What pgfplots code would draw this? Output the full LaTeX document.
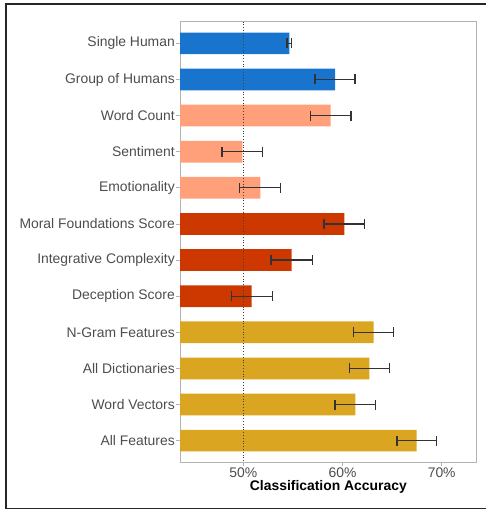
\documentclass[border=0pt]{standalone}
\usepackage{fontspec}
\setmainfont{Liberation Sans}
\usepackage{pgfplots}
\pgfplotsset{compat=1.18}
\usepackage{pgfplotstable}

\definecolor{humanblue}{HTML}{1874CD}
\definecolor{dictsalmon}{HTML}{FFA07A}
\definecolor{dictred}{HTML}{CD3700}
\definecolor{mlgold}{HTML}{DAA520}
\definecolor{labelgray}{HTML}{4D4D4D}
\definecolor{panelgray}{HTML}{B3B3B3}
\definecolor{errgray}{HTML}{333333}

% y: row (1 = top), acc: classification accuracy in %, err: half width of the interval
\pgfplotstableread{
y acc err
1 54.64 0.23
2 59.25 2.02
}\humans
\pgfplotstableread{
y acc err
3 58.81 2.05
4 49.90 2.05
5 51.71 2.06
}\lowdict
\pgfplotstableread{
y acc err
6 60.18 2.03
7 54.88 2.08
8 50.85 2.06
}\highdict
\pgfplotstableread{
y acc err
9  63.15 2.02
10 62.70 2.02
11 61.29 2.04
12 67.48 1.99
}\learned

\newcommand{\labelfont}{\fontsize{13.9bp}{16bp}\selectfont}

\begin{document}
\begin{tikzpicture}
\useasboundingbox (0,0) rectangle (486bp,510bp);
\draw[line width=1.4bp, color=black!85] (486bp,506bp) -- (6bp,506bp) -- (6bp,1.5bp) -- (486bp,1.5bp);
\begin{axis}[
  at={(180bp,47.7bp)}, anchor=south west,
  scale only axis, width=296.7bp, height=440.6bp,
  xmin=43.62, xmax=73.53,
  ymin=0.4, ymax=12.6, y dir=reverse,
  xbar, bar width=21.7bp, bar shift=0pt,
  axis line style={panelgray, line width=0.8bp},
  tick pos=left, tick align=outside, major tick length=4bp,
  tick style={panelgray, line width=0.8bp},
  xtick={50,60,70}, xticklabels={50\%,60\%,70\%},
  ytick={1,...,12},
  yticklabels={Single Human, Group of Humans, Word Count, Sentiment,
    Emotionality, Moral Foundations Score, Integrative Complexity,
    Deception Score, N-Gram Features, All Dictionaries, Word Vectors,
    All Features},
  ticklabel style={font=\labelfont, text=labelgray},
  yticklabel style={inner sep=1bp},
  xticklabel style={inner sep=0pt, yshift=-1.7bp},
  xlabel={Classification Accuracy},
  xlabel style={font=\bfseries\labelfont, text=black, inner sep=0pt,
    at={(axis description cs:0.5,0)}, anchor=base, yshift=-28.4bp},
  errbars/.style={
    error bars/.cd, x dir=both, x explicit,
    error bar style={line width=1.3bp, color=errgray},
    error mark options={rotate=90, mark size=5bp, line width=1.3bp, color=errgray}},
]
\addplot[fill=humanblue, draw=none, errbars] table[x=acc, y=y, x error=err] {\humans};
\addplot[fill=dictsalmon, draw=none, errbars] table[x=acc, y=y, x error=err] {\lowdict};
\addplot[fill=dictred, draw=none, errbars] table[x=acc, y=y, x error=err] {\highdict};
\addplot[fill=mlgold, draw=none, errbars] table[x=acc, y=y, x error=err] {\learned};
% chance level
\addplot[sharp plot, dotted, line width=0.8bp, color=black!75, forget plot]
  coordinates {(50,0.4) (50,12.6)};
\end{axis}
\end{tikzpicture}
\end{document}
